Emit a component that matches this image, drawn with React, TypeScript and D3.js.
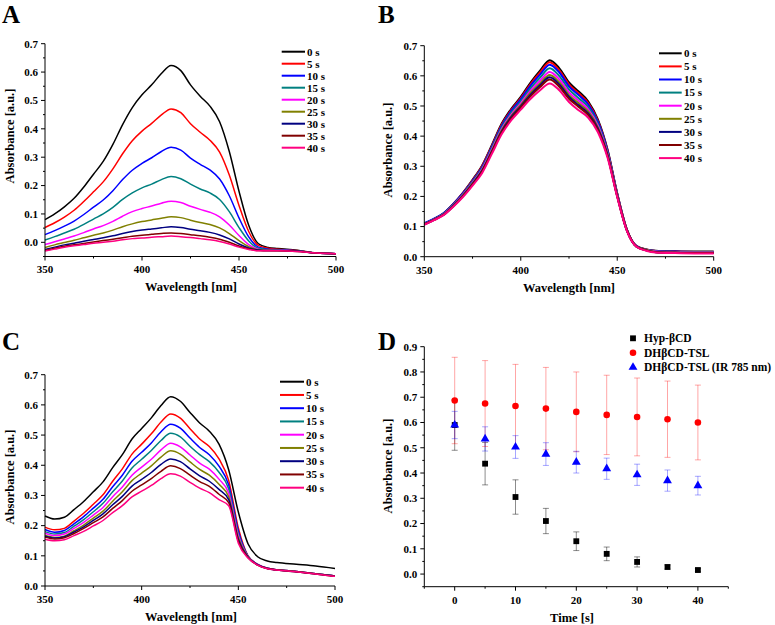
import React from "react";
import * as d3 from "d3";

const WAVELENGTHS = [350, 355, 360, 365, 370, 375, 380, 385, 390, 395, 400, 405, 410, 415, 420, 425, 430, 435, 440, 445, 450, 455, 460, 465, 470, 480, 490, 500];
const TIME_LABELS = ["0 s", "5 s", "10 s", "15 s", "20 s", "25 s", "30 s", "35 s", "40 s"];
const LINE_COLORS = ["#000000", "#ff0000", "#0000ff", "#008080", "#ff00ff", "#808000", "#000080", "#800000", "#ff0080"];

// Panel A
const A_0S = [0.080, 0.100, 0.125, 0.155, 0.195, 0.240, 0.285, 0.345, 0.415, 0.475, 0.520, 0.555, 0.595, 0.623, 0.605, 0.555, 0.515, 0.480, 0.425, 0.320, 0.180, 0.060, -0.005, -0.018, -0.022, -0.028, -0.038, -0.040];
const A_5S = [0.052, 0.069, 0.089, 0.113, 0.144, 0.178, 0.213, 0.259, 0.312, 0.358, 0.392, 0.419, 0.449, 0.470, 0.457, 0.418, 0.388, 0.360, 0.318, 0.237, 0.130, 0.038, -0.011, -0.021, -0.024, -0.029, -0.038, -0.040];
const A_10S = [0.027, 0.041, 0.057, 0.075, 0.098, 0.124, 0.149, 0.182, 0.221, 0.254, 0.278, 0.298, 0.320, 0.335, 0.325, 0.297, 0.275, 0.255, 0.223, 0.164, 0.086, 0.019, -0.017, -0.024, -0.026, -0.030, -0.038, -0.040];
const A_15S = [0.008, 0.020, 0.033, 0.046, 0.063, 0.082, 0.100, 0.123, 0.151, 0.174, 0.192, 0.205, 0.221, 0.232, 0.224, 0.205, 0.188, 0.174, 0.151, 0.108, 0.052, 0.005, -0.021, -0.026, -0.027, -0.031, -0.038, -0.040];
const A_20S = [-0.008, 0.002, 0.012, 0.022, 0.034, 0.047, 0.059, 0.074, 0.092, 0.108, 0.119, 0.128, 0.138, 0.145, 0.140, 0.127, 0.116, 0.106, 0.090, 0.061, 0.024, -0.008, -0.024, -0.027, -0.028, -0.031, -0.038, -0.040];
const A_25S = [-0.018, -0.009, -0.001, 0.007, 0.016, 0.025, 0.033, 0.043, 0.055, 0.065, 0.073, 0.079, 0.085, 0.090, 0.087, 0.078, 0.070, 0.063, 0.051, 0.031, 0.006, -0.015, -0.026, -0.028, -0.029, -0.031, -0.038, -0.040];
const A_30S = [-0.025, -0.017, -0.009, -0.003, 0.004, 0.010, 0.016, 0.023, 0.031, 0.038, 0.043, 0.047, 0.051, 0.055, 0.052, 0.046, 0.041, 0.035, 0.026, 0.012, -0.006, -0.020, -0.027, -0.029, -0.029, -0.031, -0.038, -0.040];
const A_35S = [-0.029, -0.021, -0.014, -0.009, -0.004, 0.001, 0.006, 0.011, 0.016, 0.021, 0.025, 0.028, 0.031, 0.033, 0.031, 0.027, 0.023, 0.018, 0.011, 0.000, -0.013, -0.023, -0.029, -0.030, -0.030, -0.032, -0.038, -0.040];
const A_40S = [-0.031, -0.024, -0.017, -0.012, -0.008, -0.003, 0.000, 0.004, 0.009, 0.013, 0.015, 0.018, 0.020, 0.022, 0.020, 0.017, 0.013, 0.009, 0.003, -0.006, -0.017, -0.025, -0.030, -0.030, -0.030, -0.032, -0.038, -0.040];

// Panel B
const B_0S = [0.110, 0.125, 0.144, 0.175, 0.212, 0.255, 0.303, 0.370, 0.440, 0.490, 0.530, 0.577, 0.617, 0.652, 0.625, 0.578, 0.548, 0.515, 0.455, 0.355, 0.210, 0.090, 0.035, 0.024, 0.020, 0.018, 0.017, 0.017];
const B_5S = [0.110, 0.125, 0.143, 0.174, 0.211, 0.253, 0.301, 0.367, 0.437, 0.486, 0.526, 0.572, 0.611, 0.645, 0.618, 0.572, 0.542, 0.510, 0.451, 0.352, 0.209, 0.090, 0.035, 0.024, 0.019, 0.017, 0.016, 0.016];
const B_10S = [0.111, 0.126, 0.144, 0.174, 0.210, 0.251, 0.298, 0.364, 0.433, 0.483, 0.522, 0.567, 0.604, 0.637, 0.611, 0.565, 0.536, 0.505, 0.447, 0.350, 0.208, 0.089, 0.035, 0.023, 0.019, 0.017, 0.016, 0.016];
const B_15S = [0.109, 0.124, 0.142, 0.172, 0.207, 0.248, 0.294, 0.360, 0.428, 0.477, 0.515, 0.558, 0.594, 0.625, 0.599, 0.555, 0.526, 0.496, 0.440, 0.346, 0.206, 0.089, 0.034, 0.023, 0.018, 0.016, 0.015, 0.015];
const B_20S = [0.108, 0.123, 0.141, 0.170, 0.205, 0.245, 0.290, 0.355, 0.422, 0.471, 0.509, 0.550, 0.584, 0.613, 0.588, 0.545, 0.517, 0.488, 0.434, 0.341, 0.204, 0.088, 0.034, 0.022, 0.017, 0.015, 0.014, 0.014];
const B_25S = [0.108, 0.123, 0.140, 0.169, 0.203, 0.243, 0.287, 0.351, 0.418, 0.466, 0.503, 0.543, 0.575, 0.603, 0.578, 0.536, 0.509, 0.481, 0.428, 0.338, 0.203, 0.088, 0.034, 0.022, 0.016, 0.014, 0.013, 0.013];
const B_30S = [0.107, 0.122, 0.139, 0.168, 0.202, 0.241, 0.285, 0.348, 0.414, 0.462, 0.499, 0.537, 0.569, 0.595, 0.571, 0.530, 0.502, 0.475, 0.424, 0.335, 0.201, 0.087, 0.033, 0.021, 0.015, 0.013, 0.012, 0.012];
const B_35S = [0.107, 0.122, 0.139, 0.167, 0.200, 0.239, 0.283, 0.346, 0.411, 0.458, 0.495, 0.532, 0.563, 0.588, 0.564, 0.524, 0.497, 0.470, 0.420, 0.333, 0.200, 0.087, 0.033, 0.021, 0.015, 0.013, 0.012, 0.012];
const B_40S = [0.106, 0.121, 0.138, 0.166, 0.198, 0.236, 0.278, 0.341, 0.405, 0.452, 0.488, 0.523, 0.552, 0.575, 0.552, 0.513, 0.486, 0.461, 0.413, 0.328, 0.198, 0.086, 0.033, 0.020, 0.014, 0.012, 0.011, 0.011];

// Panel C
const C_0S = [0.232, 0.222, 0.228, 0.253, 0.280, 0.312, 0.345, 0.392, 0.435, 0.487, 0.522, 0.557, 0.598, 0.627, 0.612, 0.575, 0.540, 0.513, 0.470, 0.385, 0.245, 0.140, 0.097, 0.083, 0.078, 0.072, 0.066, 0.058];
const C_5S = [0.195, 0.186, 0.191, 0.215, 0.241, 0.271, 0.302, 0.347, 0.388, 0.437, 0.470, 0.504, 0.543, 0.570, 0.556, 0.521, 0.487, 0.462, 0.421, 0.350, 0.192, 0.100, 0.072, 0.059, 0.054, 0.048, 0.041, 0.033];
const C_10S = [0.187, 0.178, 0.184, 0.206, 0.230, 0.258, 0.287, 0.329, 0.367, 0.413, 0.443, 0.474, 0.511, 0.536, 0.523, 0.490, 0.459, 0.435, 0.397, 0.335, 0.182, 0.099, 0.072, 0.059, 0.054, 0.048, 0.041, 0.033];
const C_15S = [0.180, 0.172, 0.177, 0.198, 0.220, 0.246, 0.274, 0.312, 0.348, 0.391, 0.420, 0.449, 0.482, 0.506, 0.494, 0.463, 0.435, 0.412, 0.377, 0.322, 0.174, 0.098, 0.071, 0.059, 0.054, 0.048, 0.041, 0.033];
const C_20S = [0.175, 0.167, 0.172, 0.191, 0.211, 0.235, 0.260, 0.296, 0.328, 0.367, 0.394, 0.420, 0.451, 0.473, 0.461, 0.434, 0.407, 0.387, 0.354, 0.308, 0.167, 0.097, 0.071, 0.059, 0.054, 0.048, 0.041, 0.033];
const C_25S = [0.168, 0.161, 0.165, 0.183, 0.202, 0.225, 0.248, 0.281, 0.312, 0.349, 0.374, 0.398, 0.427, 0.448, 0.437, 0.411, 0.386, 0.367, 0.337, 0.296, 0.160, 0.096, 0.070, 0.058, 0.054, 0.048, 0.041, 0.033];
const C_30S = [0.165, 0.159, 0.163, 0.179, 0.196, 0.217, 0.239, 0.269, 0.297, 0.331, 0.353, 0.376, 0.403, 0.421, 0.412, 0.388, 0.365, 0.347, 0.320, 0.286, 0.154, 0.095, 0.070, 0.058, 0.053, 0.047, 0.040, 0.033];
const C_35S = [0.162, 0.156, 0.160, 0.174, 0.191, 0.210, 0.229, 0.257, 0.283, 0.314, 0.335, 0.356, 0.380, 0.398, 0.389, 0.367, 0.346, 0.330, 0.304, 0.276, 0.148, 0.094, 0.069, 0.058, 0.053, 0.047, 0.040, 0.032];
const C_40S = [0.155, 0.150, 0.153, 0.167, 0.181, 0.199, 0.217, 0.243, 0.266, 0.295, 0.314, 0.333, 0.356, 0.372, 0.364, 0.343, 0.324, 0.309, 0.286, 0.266, 0.142, 0.093, 0.069, 0.057, 0.053, 0.047, 0.040, 0.032];

// Panel D
const TIME_S = [0, 5, 10, 15, 20, 25, 30, 35, 40];
const HYP_BCD = [0.590, 0.437, 0.305, 0.210, 0.130, 0.080, 0.048, 0.028, 0.016];
const HYP_BCD_ERR = [0.100, 0.084, 0.068, 0.050, 0.037, 0.027, 0.020, 0.008, 0.006];
const DHBCD_TSL = [0.687, 0.675, 0.665, 0.655, 0.642, 0.630, 0.622, 0.613, 0.600];
const DHBCD_TSL_ERR = [0.171, 0.170, 0.165, 0.163, 0.158, 0.157, 0.154, 0.151, 0.148];
const DHBCD_IR = [0.590, 0.535, 0.503, 0.475, 0.443, 0.417, 0.393, 0.370, 0.350];
const DHBCD_IR_ERR = [0.054, 0.048, 0.045, 0.045, 0.043, 0.042, 0.042, 0.042, 0.037];
const D_LEGEND = ["Hyp-\u03b2CD", "DH\u03b2CD-TSL", "DH\u03b2CD-TSL (IR 785 nm)"];

const SPEC_X_TICKS = [350, 400, 450, 500];
const SPEC_X_MINOR = [375, 425, 475];
const SPEC_Y_TICKS = [0, 0.1, 0.2, 0.3, 0.4, 0.5, 0.6, 0.7];
const D_X_TICKS = [0, 10, 20, 30, 40];
const D_X_MINOR = [-5, 5, 15, 25, 35, 45];
const D_Y_TICKS = [0, 0.1, 0.2, 0.3, 0.4, 0.5, 0.6, 0.7, 0.8, 0.9];

const FONT = "'Liberation Serif', 'Times New Roman', serif";

type SpecProps = {
  x0: number; x1: number; yTop: number; yBottom: number;
  yDomain: [number, number];
  series: number[][];
  lw: number;
  leg: { lx0: number; lx1: number; tx: number; y0: number; dy: number };
  letter: { t: string; x: number; y: number };
  yTitle: { x: number; y: number };
  xTitle: { x: number; y: number };
};

function yMinorTicks(domain: [number, number]) {
  const out: number[] = [];
  for (let i = Math.round(domain[0] * 20); i <= Math.round(domain[1] * 20); i++) {
    if (i % 2 !== 0) out.push(i / 20);
  }
  return out;
}

function SpectrumPanel(p: SpecProps) {
  const x = d3.scaleLinear().domain([350, 500]).range([p.x0, p.x1]);
  const y = d3.scaleLinear().domain(p.yDomain).range([p.yBottom, p.yTop]);
  const line = d3
    .line<number>()
    .x((_, i) => x(WAVELENGTHS[i]))
    .y((d) => y(d))
    .curve(d3.curveMonotoneX);
  const minorY = yMinorTicks(p.yDomain);
  return (
    <g>
      <text x={p.letter.x} y={p.letter.y} fontSize={25} fontWeight="bold" fontFamily={FONT}>{p.letter.t}</text>
      {p.series.map((s, i) => (
        <path key={i} d={line(s) || ""} fill="none" stroke={LINE_COLORS[i]} strokeWidth={p.lw} strokeLinejoin="round" />
      ))}
      <line x1={p.x0} x2={p.x0} y1={p.yTop} y2={p.yBottom} stroke="#000" strokeWidth={1} />
      <line x1={p.x0} x2={p.x1} y1={p.yBottom} y2={p.yBottom} stroke="#000" strokeWidth={1} />
      {SPEC_Y_TICKS.map((t) => (
        <g key={"yt" + t}>
          <line x1={p.x0 - 4} x2={p.x0} y1={y(t)} y2={y(t)} stroke="#000" />
          <text x={p.x0 - 7} y={y(t)} dy="0.35em" textAnchor="end" fontSize={11} fontWeight="bold" fontFamily={FONT}>{t.toFixed(1)}</text>
        </g>
      ))}
      {minorY.map((t) => (
        <line key={"ym" + t} x1={p.x0 - 2} x2={p.x0} y1={y(t)} y2={y(t)} stroke="#000" />
      ))}
      {SPEC_X_TICKS.map((t) => (
        <g key={"xt" + t}>
          <line x1={x(t)} x2={x(t)} y1={p.yBottom} y2={p.yBottom + 4} stroke="#000" />
          <text x={x(t)} y={p.yBottom + 13} dy="0.35em" textAnchor="middle" fontSize={11} fontWeight="bold" fontFamily={FONT}>{t}</text>
        </g>
      ))}
      {SPEC_X_MINOR.map((t) => (
        <line key={"xm" + t} x1={x(t)} x2={x(t)} y1={p.yBottom} y2={p.yBottom + 2} stroke="#000" />
      ))}
      <text transform={`translate(${p.yTitle.x},${p.yTitle.y}) rotate(-90)`} textAnchor="middle" dy="0.35em" fontSize={12.5} fontWeight="bold" fontFamily={FONT}>Absorbance [a.u.]</text>
      <text x={p.xTitle.x} y={p.xTitle.y} dy="0.35em" textAnchor="middle" fontSize={12.5} fontWeight="bold" fontFamily={FONT}>Wavelength [nm]</text>
      {TIME_LABELS.map((lab, i) => (
        <g key={"lg" + i}>
          <line x1={p.leg.lx0} x2={p.leg.lx1} y1={p.leg.y0 + i * p.leg.dy} y2={p.leg.y0 + i * p.leg.dy} stroke={LINE_COLORS[i]} strokeWidth={2} />
          <text x={p.leg.tx} y={p.leg.y0 + i * p.leg.dy} dy="0.35em" fontSize={11} fontWeight="bold" fontFamily={FONT}>{lab}</text>
        </g>
      ))}
    </g>
  );
}

function TimePanel() {
  const x0 = 424.3, x1 = 728.3, yTop = 346.7, yBottom = 586.7;
  const x = d3.scaleLinear().domain([-5, 45]).range([x0, x1]);
  const y = d3.scaleLinear().domain([-0.05, 0.9]).range([yBottom, yTop]);
  const sq = d3.symbol().type(d3.symbolSquare).size(34)() || "";
  const ci = d3.symbol().type(d3.symbolCircle).size(34)() || "";
  const tr = d3.symbol().type(d3.symbolTriangle).size(34)() || "";
  const groups = [
    { v: HYP_BCD, e: HYP_BCD_ERR, c: "#000000", ec: "rgba(0,0,0,0.45)", sym: sq },
    { v: DHBCD_TSL, e: DHBCD_TSL_ERR, c: "#ff0000", ec: "rgba(255,0,0,0.35)", sym: ci },
    { v: DHBCD_IR, e: DHBCD_IR_ERR, c: "#0000ff", ec: "rgba(0,0,255,0.35)", sym: tr },
  ];
  const minorY = yMinorTicks([-0.05, 0.9]);
  return (
    <g>
      <text x={378} y={350} fontSize={25} fontWeight="bold" fontFamily={FONT}>D</text>
      {groups.map((g, gi) => (
        <g key={"eb" + gi}>
          {TIME_S.map((t, i) => (
            <g key={i} stroke={g.ec} strokeWidth={1}>
              <line x1={x(t)} x2={x(t)} y1={y(g.v[i] - g.e[i])} y2={y(g.v[i] + g.e[i])} />
              <line x1={x(t) - 3} x2={x(t) + 3} y1={y(g.v[i] - g.e[i])} y2={y(g.v[i] - g.e[i])} />
              <line x1={x(t) - 3} x2={x(t) + 3} y1={y(g.v[i] + g.e[i])} y2={y(g.v[i] + g.e[i])} />
            </g>
          ))}
        </g>
      ))}
      {groups.map((g, gi) => (
        <g key={"pt" + gi}>
          {TIME_S.map((t, i) => (
            <path key={i} d={g.sym} transform={`translate(${x(t)},${y(g.v[i])})`} fill={g.c} />
          ))}
        </g>
      ))}
      <line x1={x0} x2={x0} y1={yTop} y2={yBottom} stroke="#000" />
      <line x1={x0} x2={x1} y1={yBottom} y2={yBottom} stroke="#000" />
      {D_Y_TICKS.map((t) => (
        <g key={"yt" + t}>
          <line x1={x0 - 4} x2={x0} y1={y(t)} y2={y(t)} stroke="#000" />
          <text x={x0 - 7} y={y(t)} dy="0.35em" textAnchor="end" fontSize={11} fontWeight="bold" fontFamily={FONT}>{t.toFixed(1)}</text>
        </g>
      ))}
      {minorY.map((t) => (
        <line key={"ym" + t} x1={x0 - 2} x2={x0} y1={y(t)} y2={y(t)} stroke="#000" />
      ))}
      {D_X_TICKS.map((t) => (
        <g key={"xt" + t}>
          <line x1={x(t)} x2={x(t)} y1={yBottom} y2={yBottom + 4} stroke="#000" />
          <text x={x(t)} y={yBottom + 13} dy="0.35em" textAnchor="middle" fontSize={11} fontWeight="bold" fontFamily={FONT}>{t}</text>
        </g>
      ))}
      {D_X_MINOR.map((t) => (
        <line key={"xm" + t} x1={x(t)} x2={x(t)} y1={yBottom} y2={yBottom + 2} stroke="#000" />
      ))}
      <text transform={`translate(388,466) rotate(-90)`} textAnchor="middle" dy="0.35em" fontSize={12.5} fontWeight="bold" fontFamily={FONT}>Absorbance [a.u.]</text>
      <text x={572} y={618} dy="0.35em" textAnchor="middle" fontSize={12.5} fontWeight="bold" fontFamily={FONT}>Time [s]</text>
      {groups.map((g, gi) => (
        <g key={"lg" + gi}>
          <path d={g.sym} transform={`translate(633,${338.3 + gi * 14.5})`} fill={g.c} />
          <text x={644} y={338.3 + gi * 14.5} dy="0.35em" fontSize={11.5} fontWeight="bold" fontFamily={FONT}>{D_LEGEND[gi]}</text>
        </g>
      ))}
    </g>
  );
}

export default function App() {
  return (
    <svg width={775} height={625} style={{ position: "absolute", left: 0, top: 0, background: "#fff" }}>
      <rect width={775} height={625} fill="#fff" />
      <SpectrumPanel
        x0={45} x1={336} yTop={43.7} yBottom={256.5} yDomain={[-0.05, 0.7]}
        series={[A_0S, A_5S, A_10S, A_15S, A_20S, A_25S, A_30S, A_35S, A_40S]}
        lw={1.5}
        leg={{ lx0: 281.7, lx1: 305, tx: 307, y0: 51.7, dy: 12 }}
        letter={{ t: "A", x: 2, y: 23 }}
        yTitle={{ x: 10, y: 136 }}
        xTitle={{ x: 191, y: 287 }}
      />
      <SpectrumPanel
        x0={424.3} x1={713.7} yTop={45.7} yBottom={256.7} yDomain={[0, 0.7]}
        series={[B_0S, B_5S, B_10S, B_15S, B_20S, B_25S, B_30S, B_35S, B_40S]}
        lw={2}
        leg={{ lx0: 659, lx1: 681.7, tx: 684, y0: 53.3, dy: 13.1 }}
        letter={{ t: "B", x: 378, y: 23 }}
        yTitle={{ x: 388, y: 150 }}
        xTitle={{ x: 569, y: 288 }}
      />
      <SpectrumPanel
        x0={45} x1={335} yTop={374.7} yBottom={586} yDomain={[0, 0.7]}
        series={[C_0S, C_5S, C_10S, C_15S, C_20S, C_25S, C_30S, C_35S, C_40S]}
        lw={1.5}
        leg={{ lx0: 280, lx1: 304, tx: 306, y0: 381.7, dy: 13.25 }}
        letter={{ t: "C", x: 2, y: 350 }}
        yTitle={{ x: 10, y: 477 }}
        xTitle={{ x: 191, y: 617 }}
      />
      <TimePanel />
    </svg>
  );
}
